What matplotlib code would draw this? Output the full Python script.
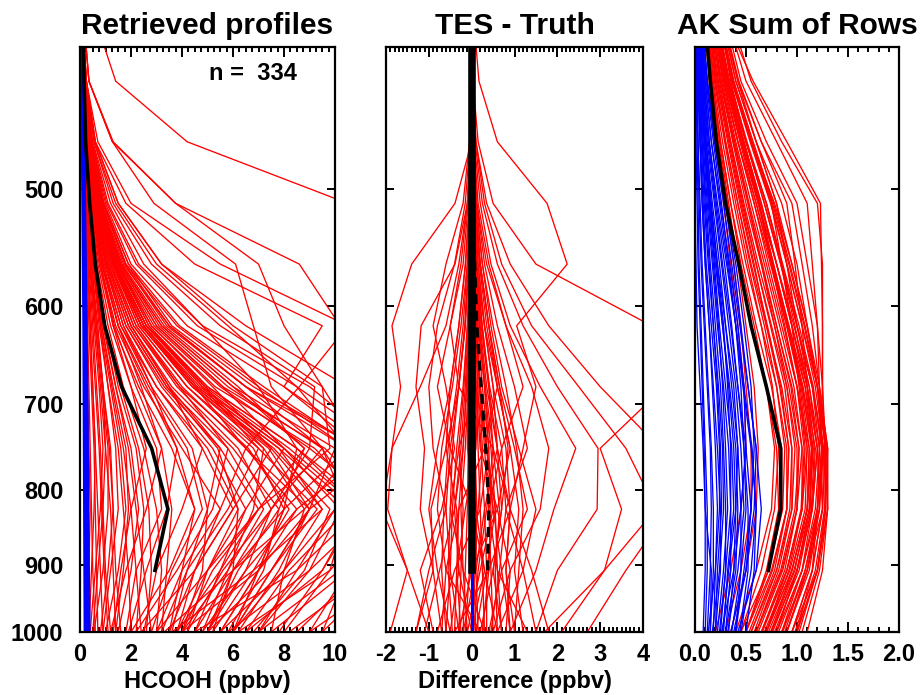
import matplotlib
matplotlib.use('Agg')
import matplotlib.pyplot as plt
from matplotlib.ticker import FixedLocator, MultipleLocator, NullLocator, FixedFormatter

plt.rcParams['font.family'] = ['Liberation Sans', 'DejaVu Sans']
plt.rcParams['font.weight'] = 'bold'
plt.rcParams['axes.unicode_minus'] = False

# ---------------- data ----------------
pressure = [1000, 908, 825, 750, 681, 619, 562, 511, 464, 422, 383]
mean_pressure = [908, 825, 750, 681, 619, 562, 511, 464, 422, 383]

titles = ["Retrieved profiles", "TES - Truth", "AK Sum of Rows"]
xlabels = ["HCOOH (ppbv)", "Difference (ppbv)", ""]
y_ticks = [500, 600, 700, 800, 900, 1000]
y_ticklabels = ["500", "600", "700", "800", "900", "1000"]
x1_ticks = [0, 2, 4, 6, 8, 10]
x2_ticks = [-2, -1, 0, 1, 2, 3, 4]
x3_ticks = [0.0, 0.5, 1.0, 1.5, 2.0]
x3_ticklabels = ["0.0", "0.5", "1.0", "1.5", "2.0"]
n_text = "n =  334"

# retrieved HCOOH profiles (ppbv), values at pressure levels above (bottom -> top)
retrieved_profiles = [
    [0.6, 0.5, 0.45, 0.4, 0.35, 0.3, 0.25, 0.2, 0.15, 0.1, 0.08],
    [0.9, 0.8, 0.7, 0.6, 0.5, 0.4, 0.3, 0.22, 0.15, 0.1, 0.08],
    [1.2, 1.0, 0.9, 0.8, 0.65, 0.5, 0.35, 0.25, 0.18, 0.12, 0.1],
    [1.4, 1.3, 1.2, 1.0, 0.8, 0.6, 0.4, 0.3, 0.2, 0.12, 0.1],
    [0.8, 1.1, 1.3, 1.2, 0.9, 0.65, 0.45, 0.3, 0.2, 0.13, 0.1],
    [1.0, 1.5, 1.8, 1.6, 1.2, 0.8, 0.5, 0.3, 0.2, 0.12, 0.1],
    [1.5, 2.0, 2.3, 2.0, 1.4, 0.9, 0.55, 0.35, 0.2, 0.13, 0.1],
    [2.6, 2.8, 2.7, 2.3, 1.6, 1.0, 0.6, 0.35, 0.22, 0.14, 0.1],
    [3.0, 3.2, 3.0, 2.5, 1.7, 1.1, 0.65, 0.4, 0.25, 0.15, 0.1],
    [0.3, 0.35, 0.4, 0.35, 0.3, 0.25, 0.2, 0.15, 0.12, 0.1, 0.08],
    [2.2, 2.4, 2.5, 2.2, 1.5, 1.0, 0.6, 0.35, 0.2, 0.12, 0.1],
    [1.3, 1.6, 2.0, 2.6, 2.0, 1.3, 0.8, 0.45, 0.25, 0.15, 0.1],
    [3.8, 4.5, 5.5, 4.0, 2.5, 1.4, 0.8, 0.45, 0.25, 0.15, 0.1],
    [4.2, 5.0, 6.2, 5.0, 3.0, 1.6, 0.9, 0.5, 0.28, 0.15, 0.1],
    [4.5, 5.5, 7.0, 5.5, 3.3, 1.8, 1.0, 0.55, 0.3, 0.16, 0.1],
    [5.0, 6.2, 7.8, 6.0, 3.6, 2.0, 1.1, 0.6, 0.3, 0.16, 0.1],
    [5.5, 7.0, 8.5, 6.5, 4.0, 2.2, 1.2, 0.65, 0.32, 0.17, 0.1],
    [6.0, 7.5, 9.3, 7.0, 4.2, 2.3, 1.3, 0.7, 0.35, 0.18, 0.1],
    [6.5, 8.2, 10.5, 7.8, 4.6, 2.5, 1.4, 0.75, 0.35, 0.18, 0.1],
    [7.0, 9.0, 11.5, 8.5, 5.0, 2.7, 1.5, 0.8, 0.38, 0.2, 0.1],
    [3.5, 4.0, 4.5, 3.8, 2.6, 1.5, 0.85, 0.5, 0.25, 0.15, 0.1],
    [4.0, 4.8, 5.0, 5.5, 3.5, 2.0, 1.1, 0.6, 0.3, 0.16, 0.1],
    [3.0, 4.0, 5.5, 6.5, 4.5, 2.5, 1.3, 0.7, 0.35, 0.18, 0.1],
    [3.5, 4.5, 6.0, 7.5, 5.2, 2.8, 1.5, 0.75, 0.35, 0.18, 0.1],
    [4.0, 5.2, 7.0, 8.8, 6.0, 3.2, 1.6, 0.8, 0.38, 0.2, 0.1],
    [4.5, 6.0, 8.0, 10.5, 7.0, 3.8, 1.8, 0.9, 0.4, 0.2, 0.1],
    [5.0, 6.5, 8.5, 11.5, 8.0, 4.2, 2.0, 1.0, 0.45, 0.22, 0.1],
    [2.5, 3.0, 4.0, 4.8, 3.5, 2.0, 1.1, 0.6, 0.3, 0.16, 0.1],
    [5.5, 8.0, 9.5, 7.5, 4.5, 2.4, 1.3, 0.7, 0.35, 0.18, 0.1],
    [6.5, 9.5, 11.0, 8.5, 5.0, 2.6, 1.4, 0.75, 0.35, 0.18, 0.1],
    [7.5, 10.5, 12.0, 9.0, 5.5, 2.9, 1.5, 0.8, 0.38, 0.2, 0.1],
    [8.5, 11.0, 12.5, 10.0, 6.0, 3.2, 1.6, 0.85, 0.4, 0.2, 0.1],
    [4.8, 6.5, 7.5, 6.2, 3.8, 2.1, 1.2, 0.65, 0.32, 0.17, 0.1],
    [9.5, 12.0, 13.0, 10.5, 6.5, 3.5, 1.8, 0.9, 0.42, 0.2, 0.1],
    [12.0, 14.0, 15.0, 15.0, 14.0, 13.0, 12.0, 10.5, 4.2, 1.4, 0.6],
    [9.0, 10.5, 11.0, 9.5, 7.5, 6.8, 6.1, 2.9, 1.27, 0.35, 0.15],
    [11.0, 12.0, 12.0, 11.0, 9.5, 8.0, 7.0, 3.75, 1.27, 0.35, 0.15],
    [12.0, 13.0, 13.0, 12.5, 11.0, 10.2, 8.6, 3.75, 1.3, 0.35, 0.15],
    [6.0, 7.0, 8.0, 8.5, 7.0, 4.8, 2.5, 1.2, 0.5, 0.2, 0.1],
    [7.0, 8.5, 10.0, 10.5, 8.5, 5.8, 3.0, 1.4, 0.55, 0.22, 0.1],
    [3.0, 5.0, 7.0, 9.8, 9.5, 6.0, 3.2, 1.5, 0.6, 0.25, 0.1],
    [5.0, 7.5, 9.0, 6.5, 8.6, 10.5, 5.5, 2.0, 0.7, 0.25, 0.1],
    [6.0, 8.0, 10.0, 11.0, 8.0, 9.5, 4.5, 1.8, 0.6, 0.25, 0.1],
    [2.0, 3.5, 4.5, 3.6, 2.3, 1.3, 0.75, 0.4, 0.22, 0.13, 0.1],
    [1.8, 2.2, 3.2, 3.0, 2.0, 1.2, 0.7, 0.4, 0.22, 0.13, 0.1],
    [3.3, 6.0, 8.8, 7.2, 4.4, 2.4, 1.3, 0.7, 0.35, 0.18, 0.1],
    [0.5, 0.7, 0.9, 1.0, 0.9, 0.7, 0.45, 0.3, 0.18, 0.12, 0.08],
    [0.7, 0.65, 0.6, 0.55, 0.45, 0.35, 0.27, 0.2, 0.14, 0.1, 0.08],
    [1.1, 0.95, 0.85, 0.75, 0.6, 0.45, 0.32, 0.22, 0.15, 0.1, 0.08],
    [1.6, 1.4, 1.3, 1.15, 0.9, 0.65, 0.45, 0.3, 0.2, 0.13, 0.1],
    [0.4, 0.6, 0.8, 0.9, 0.75, 0.55, 0.38, 0.26, 0.17, 0.11, 0.08],
    [2.0, 1.9, 1.7, 1.5, 1.1, 0.75, 0.5, 0.32, 0.2, 0.13, 0.1],
    [2.8, 2.5, 2.2, 1.9, 1.4, 0.95, 0.6, 0.38, 0.23, 0.14, 0.1],
    [1.2, 1.8, 2.6, 3.2, 2.4, 1.5, 0.9, 0.5, 0.28, 0.16, 0.1],
    [0.9, 1.2, 1.5, 1.4, 1.1, 0.8, 0.55, 0.35, 0.21, 0.13, 0.1],
    [4.0, 5.8, 7.2, 5.8, 3.4, 1.9, 1.05, 0.58, 0.3, 0.16, 0.1],
    [5.2, 6.8, 8.2, 6.6, 3.9, 2.1, 1.15, 0.62, 0.31, 0.17, 0.1],
    [6.2, 7.8, 9.0, 7.4, 4.4, 2.4, 1.3, 0.7, 0.34, 0.18, 0.1],
    [7.8, 9.5, 10.8, 8.0, 4.8, 2.6, 1.4, 0.75, 0.36, 0.19, 0.1],
    [3.6, 4.2, 5.0, 4.4, 2.8, 1.6, 0.9, 0.5, 0.27, 0.15, 0.1],
    [2.8, 3.6, 4.8, 4.2, 2.7, 1.5, 0.85, 0.48, 0.26, 0.15, 0.1],
    [3.8, 5.0, 6.5, 8.0, 5.6, 3.0, 1.55, 0.78, 0.36, 0.19, 0.1],
    [4.2, 5.6, 7.5, 9.5, 6.5, 3.5, 1.7, 0.85, 0.4, 0.2, 0.1],
    [3.2, 4.2, 5.8, 7.0, 4.8, 2.6, 1.4, 0.72, 0.35, 0.18, 0.1],
    [5.5, 7.0, 9.0, 12.0, 8.5, 4.6, 2.2, 1.05, 0.46, 0.22, 0.1],
    [6.0, 7.5, 9.0, 10.0, 10.5, 6.5, 3.2, 1.5, 0.6, 0.25, 0.1],
    [5.0, 6.0, 7.5, 9.0, 9.2, 5.5, 2.8, 1.3, 0.55, 0.23, 0.1],
    [4.0, 7.0, 8.0, 6.8, 4.2, 2.3, 1.25, 0.68, 0.34, 0.18, 0.1],
    [5.8, 9.0, 10.2, 8.0, 4.7, 2.5, 1.35, 0.72, 0.35, 0.18, 0.1],
    [7.0, 10.2, 11.5, 9.2, 5.3, 2.8, 1.45, 0.78, 0.37, 0.19, 0.1],
    [9.0, 12.5, 14.0, 11.0, 6.8, 3.6, 1.9, 0.95, 0.44, 0.21, 0.1],
    [3.8, 5.5, 6.5, 5.2, 3.2, 1.8, 1.0, 0.55, 0.29, 0.16, 0.1],
    [2.4, 4.5, 6.0, 4.8, 3.0, 1.7, 0.95, 0.52, 0.28, 0.15, 0.1],
    [4.5, 8.5, 11.0, 8.2, 4.9, 2.6, 1.4, 0.74, 0.35, 0.18, 0.1],
    [6.8, 8.8, 9.8, 7.6, 4.5, 2.4, 1.3, 0.7, 0.34, 0.18, 0.1],
    [8.0, 9.8, 10.5, 9.5, 5.8, 3.1, 1.6, 0.82, 0.39, 0.2, 0.1],
    [3.6, 6.8, 9.5, 7.8, 4.6, 2.5, 1.35, 0.72, 0.35, 0.18, 0.1],
    [5.8, 7.2, 7.8, 8.8, 6.2, 3.3, 1.65, 0.82, 0.38, 0.2, 0.1],
    [7.5, 8.0, 8.8, 10.8, 7.2, 3.9, 1.9, 0.92, 0.42, 0.21, 0.1],
    [9.5, 10.5, 11.5, 12.0, 9.0, 4.8, 2.3, 1.1, 0.48, 0.22, 0.1],
    [4.8, 5.8, 6.8, 7.2, 4.9, 2.7, 1.45, 0.74, 0.35, 0.18, 0.1],
    [2.2, 3.8, 5.2, 5.8, 3.9, 2.2, 1.2, 0.62, 0.31, 0.17, 0.1],
    [6.2, 9.8, 12.0, 9.6, 5.6, 3.0, 1.55, 0.8, 0.38, 0.19, 0.1],
    [8.2, 11.5, 13.5, 11.0, 6.5, 3.4, 1.75, 0.9, 0.42, 0.21, 0.1],
    [5.2, 6.0, 6.2, 5.4, 3.4, 1.9, 1.05, 0.56, 0.29, 0.16, 0.1],
    [0.55, 0.9, 1.1, 1.1, 0.85, 0.6, 0.42, 0.28, 0.18, 0.12, 0.08],
    [1.4, 1.7, 1.9, 1.8, 1.3, 0.85, 0.55, 0.34, 0.21, 0.13, 0.1],
    [2.4, 2.2, 2.0, 1.7, 1.25, 0.85, 0.55, 0.35, 0.21, 0.13, 0.1],
    [0.35, 0.45, 0.55, 0.6, 0.5, 0.4, 0.3, 0.21, 0.14, 0.1, 0.08],
    [1.9, 2.6, 3.4, 3.8, 2.8, 1.7, 1.0, 0.55, 0.3, 0.16, 0.1],
    [3.2, 3.4, 3.6, 3.2, 2.2, 1.35, 0.8, 0.45, 0.25, 0.15, 0.1],
]
apriori_profiles = [
    [0.2, 0.19, 0.18, 0.17, 0.16, 0.15, 0.13, 0.11, 0.09, 0.07, 0.06],
    [0.3, 0.28, 0.26, 0.25, 0.23, 0.21, 0.19, 0.16, 0.13, 0.11, 0.09],
    [0.36, 0.33, 0.31, 0.29, 0.27, 0.24, 0.21, 0.18, 0.15, 0.13, 0.11],
]
retrieved_mean = [2.94, 3.45, 2.81, 1.63, 0.97, 0.6, 0.38, 0.22, 0.16, 0.12]

# TES - truth differences (ppbv)
diff_profiles = [
    [0.1, 0.05, 0.05, 0.03, 0.02, 0.01, 0, 0, 0, 0, 0],
    [-0.2, -0.15, -0.1, -0.08, -0.05, -0.03, -0.02, -0.01, 0, 0, 0],
    [0.3, 0.25, 0.2, 0.15, 0.1, 0.06, 0.03, 0.02, 0.01, 0, 0],
    [-0.4, -0.35, -0.3, -0.2, -0.12, -0.07, -0.04, -0.02, -0.01, 0, 0],
    [0.5, 0.45, 0.4, 0.3, 0.2, 0.12, 0.06, 0.03, 0.01, 0, 0],
    [-0.6, -0.5, -0.45, -0.35, -0.2, -0.1, -0.05, -0.02, -0.01, 0, 0],
    [0.7, 0.6, 0.55, 0.45, 0.3, 0.18, 0.09, 0.04, 0.02, 0, 0],
    [-0.3, -0.5, -0.6, -0.5, -0.3, -0.15, -0.07, -0.03, -0.01, 0, 0],
    [0.2, 0.5, 0.7, 0.6, 0.35, 0.2, 0.1, 0.05, 0.02, 0.01, 0],
    [-0.7, -0.6, -0.8, -0.7, -0.45, -0.25, -0.1, -0.05, -0.02, -0.01, 0],
    [0.9, 0.8, 0.9, 0.8, 0.5, 0.3, 0.15, 0.07, 0.03, 0.01, 0],
    [1.2, 1.0, 1.1, 0.9, 0.6, 0.35, 0.18, 0.08, 0.03, 0.01, 0],
    [-0.5, -0.8, -1.0, -0.8, -0.5, -0.3, -0.15, -0.06, -0.02, -0.01, 0],
    [0.4, 0.7, 1.3, 1.0, 0.65, 0.4, 0.2, 0.08, 0.03, 0.01, 0],
    [1.5, 1.2, 1.5, 1.1, 0.7, 0.45, 0.25, 0.1, 0.04, 0.01, 0],
    [-0.1, 0.2, 0.5, 0.35, 0.2, 0.1, 0.05, 0.02, 0.01, 0, 0],
    [0.0, -0.3, -0.4, -0.25, -0.15, -0.08, -0.04, -0.02, 0, 0, 0],
    [0.6, 0.3, 0.1, -0.1, -0.1, -0.05, -0.02, -0.01, 0, 0, 0],
    [-0.8, -0.4, 0.2, 0.4, 0.3, 0.15, 0.07, 0.03, 0.01, 0, 0],
    [0.8, 0.9, 0.6, 0.2, 0.1, 0.05, 0.02, 0.01, 0, 0, 0],
    [-0.2, 0.1, 0.3, 0.6, 0.5, 0.3, 0.15, 0.06, 0.02, 0.01, 0],
    [0.3, -0.2, -0.5, -0.3, 0.1, 0.05, 0.02, 0.01, 0, 0, 0],
    [1.0, 0.8, 0.9, 1.2, 1.5, 1.05, 2.23, 1.76, 0.6, 0.17, 0.05],
    [-1.0, -1.5, -2.1, -1.86, -1.66, -1.86, -1.4, -0.39, 0.0, 0, 0],
    [-1.3, -0.9, -1.2, -1.1, -1.3, -1.18, -0.39, -0.1, -0.02, 0, 0],
    [2.1, 3.1, 3.5, 3.0, 4.5, 4.2, 1.5, 0.5, 0.15, 0.03, 0],
    [1.7, 3.1, 4.3, 3.6, 2.5, 1.4, 0.7, 0.3, 0.1, 0.02, 0],
    [1.5, 2.0, 2.93, 2.95, 2.0, 1.2, 0.6, 0.25, 0.08, 0.02, 0],
    [0.9, 1.5, 1.92, 2.43, 1.6, 0.9, 0.45, 0.2, 0.06, 0.01, 0],
    [2.7, 3.6, 4.6, 4.4, 3.0, 1.8, 0.9, 0.35, 0.1, 0.02, 0],
    [-1.9, -1.5, -1.96, -1.86, -1.2, -0.6, -0.3, -0.1, -0.03, 0, 0],
    [-1.3, -1.0, -0.6, -0.9, -1.0, -0.8, -0.4, -0.15, -0.04, -0.01, 0],
    [0.6, 1.2, 0.8, 1.3, 1.0, 0.6, 0.3, 0.12, 0.04, 0.01, 0],
    [-0.4, 0.4, 0.9, 0.5, -0.3, -0.5, -0.25, -0.1, -0.03, 0, 0],
    [0.2, -0.6, -0.3, 0.3, 0.6, 0.4, 0.2, 0.08, 0.03, 0.01, 0],
    [1.3, 0.6, 0.4, 0.7, 1.2, 0.8, 0.35, 0.12, 0.03, 0.01, 0],
    [-0.9, -1.2, -0.7, -0.4, -0.6, -0.9, -0.6, -0.2, -0.05, -0.01, 0],
    [0.5, 0.9, 1.6, 1.8, 1.4, 0.8, 0.4, 0.15, 0.05, 0.01, 0],
    [0.0, 0.3, 0.0, -0.5, -0.8, -0.5, -0.2, -0.08, -0.02, 0, 0],
    [-0.3, 0.0, 0.6, 0.9, 0.6, 0.3, 0.1, 0.04, 0.01, 0, 0],
    [0.15, 0.1, 0.12, 0.08, 0.05, 0.03, 0.01, 0, 0, 0, 0],
    [-0.1, -0.2, -0.25, -0.15, -0.08, -0.04, -0.02, -0.01, 0, 0, 0],
    [0.35, 0.35, 0.3, 0.22, 0.14, 0.08, 0.04, 0.02, 0.01, 0, 0],
    [-0.3, -0.25, -0.2, -0.3, -0.18, -0.1, -0.05, -0.02, -0.01, 0, 0],
    [0.6, 0.55, 0.65, 0.5, 0.32, 0.18, 0.09, 0.04, 0.02, 0, 0],
    [-0.45, -0.55, -0.5, -0.45, -0.3, -0.16, -0.08, -0.03, -0.01, 0, 0],
    [0.25, 0.4, 0.45, 0.4, 0.25, 0.14, 0.07, 0.03, 0.01, 0, 0],
    [-0.6, -0.7, -0.65, -0.55, -0.35, -0.2, -0.1, -0.04, -0.01, 0, 0],
    [0.45, 0.65, 0.8, 0.7, 0.42, 0.24, 0.12, 0.05, 0.02, 0, 0],
    [-0.15, -0.05, 0.15, 0.25, 0.18, 0.1, 0.05, 0.02, 0.01, 0, 0],
    [0.05, 0.15, 0.35, 0.5, 0.4, 0.22, 0.1, 0.04, 0.01, 0, 0],
    [-0.25, -0.35, -0.15, 0.1, 0.15, 0.08, 0.04, 0.02, 0.01, 0, 0],
    [0.9, 0.7, 0.5, 0.35, 0.2, 0.1, 0.05, 0.02, 0.01, 0, 0],
    [-0.5, -0.3, -0.35, -0.6, -0.5, -0.3, -0.14, -0.05, -0.02, 0, 0],
    [0.1, 0.35, 0.55, 0.35, 0.1, 0.02, 0.01, 0, 0, 0, 0],
    [1.0, 1.1, 1.2, 1.05, 0.8, 0.5, 0.25, 0.1, 0.04, 0.01, 0],
    [-0.7, -0.9, -0.95, -0.6, -0.3, -0.15, -0.07, -0.03, -0.01, 0, 0],
    [0.7, 0.5, 0.7, 0.85, 0.65, 0.4, 0.2, 0.08, 0.03, 0.01, 0],
    [-1.1, -0.75, -0.4, -0.2, -0.12, -0.06, -0.03, -0.01, 0, 0, 0],
    [1.8, 1.4, 0.9, 0.6, 0.4, 0.25, 0.12, 0.05, 0.02, 0, 0],
]
diff_apriori = [0.0, 0.0, 0.0, 0.0, 0.0, 0.0, 0.0, 0.0, 0.0, 0.0, 0.0]
diff_mean = [0.0, 0.0, 0.0, 0.0, 0.0, 0.0, 0.0, 0.0, 0.0, 0.0]
diff_mean_dashed = [0.37, 0.4, 0.33, 0.22, 0.12, 0.07, 0.04, 0.02, 0.01, 0.0]

# averaging kernel row sums
ak_red = [
    [0.9, 1.1, 1.2, 1.25, 1.15, 1.0, 0.85, 0.7, 0.5, 0.35, 0.25],
    [0.8, 1.0, 1.15, 1.2, 1.1, 0.95, 0.8, 0.62, 0.45, 0.3, 0.2],
    [1.0, 1.2, 1.3, 1.3, 1.2, 1.1, 0.95, 0.78, 0.55, 0.38, 0.25],
    [0.7, 0.9, 1.05, 1.1, 1.0, 0.85, 0.7, 0.55, 0.4, 0.27, 0.18],
    [0.6, 0.85, 1.0, 1.0, 0.9, 0.75, 0.6, 0.47, 0.35, 0.24, 0.16],
    [0.55, 0.8, 0.95, 0.95, 0.85, 0.7, 0.55, 0.42, 0.3, 0.2, 0.14],
    [0.5, 0.75, 0.9, 0.9, 0.8, 0.65, 0.5, 0.38, 0.27, 0.18, 0.12],
    [0.85, 1.05, 1.2, 1.25, 1.2, 1.1, 1.0, 0.85, 0.6, 0.4, 0.27],
    [1.1, 1.25, 1.3, 1.28, 1.25, 1.2, 1.1, 1.0, 0.7, 0.45, 0.3],
    [0.95, 1.15, 1.25, 1.22, 1.25, 1.25, 1.25, 1.2, 0.85, 0.55, 0.36],
    [0.75, 0.95, 1.1, 1.15, 1.05, 0.9, 0.75, 0.6, 0.42, 0.28, 0.18],
    [0.65, 0.9, 1.05, 1.05, 0.95, 0.8, 0.65, 0.5, 0.37, 0.25, 0.16],
    [0.45, 0.72, 0.85, 0.85, 0.75, 0.6, 0.47, 0.35, 0.25, 0.17, 0.11],
    [0.9, 1.1, 1.25, 1.28, 1.2, 1.05, 0.9, 0.75, 0.55, 0.37, 0.25],
    [1.0, 1.15, 1.2, 1.22, 1.15, 1.0, 0.9, 0.8, 0.6, 0.42, 0.28],
    [0.7, 0.95, 1.1, 1.12, 1.0, 0.87, 0.72, 0.58, 0.42, 0.28, 0.18],
    [0.8, 1.05, 1.15, 1.18, 1.08, 0.92, 0.77, 0.62, 0.45, 0.3, 0.2],
    [0.6, 0.82, 0.95, 0.98, 0.9, 0.78, 0.65, 0.52, 0.38, 0.25, 0.16],
    [0.55, 0.78, 0.9, 0.92, 0.83, 0.7, 0.58, 0.45, 0.33, 0.22, 0.14],
    [0.95, 1.2, 1.28, 1.3, 1.22, 1.15, 1.05, 0.95, 0.65, 0.43, 0.28],
    [1.0, 1.2, 1.28, 1.27, 1.25, 1.25, 1.24, 1.23, 0.9, 0.57, 0.3],
    [0.85, 1.1, 1.22, 1.25, 1.22, 1.2, 1.15, 1.1, 0.8, 0.5, 0.32],
    [0.4, 0.6, 0.75, 0.78, 0.7, 0.58, 0.45, 0.35, 0.25, 0.17, 0.11],
    [0.35, 0.5, 0.6, 0.62, 0.58, 0.5, 0.42, 0.33, 0.24, 0.16, 0.1],
    [0.3, 0.45, 0.55, 0.55, 0.5, 0.45, 0.38, 0.3, 0.22, 0.15, 0.1],
    [1.05, 1.22, 1.3, 1.3, 1.22, 1.1, 0.95, 0.8, 0.6, 0.4, 0.26],
    [0.75, 1.0, 1.15, 1.2, 1.12, 1.0, 0.85, 0.7, 0.5, 0.33, 0.22],
    [0.65, 0.88, 1.0, 1.02, 0.92, 0.78, 0.62, 0.48, 0.35, 0.23, 0.15],
    [0.2, 0.35, 0.45, 0.5, 0.48, 0.42, 0.35, 0.28, 0.2, 0.14, 0.09],
    [0.9, 1.12, 1.22, 1.2, 1.1, 0.95, 0.8, 0.65, 0.48, 0.32, 0.21],
    [0.5, 0.7, 0.82, 0.8, 0.7, 0.55, 0.42, 0.32, 0.23, 0.15, 0.1],
    [0.7, 0.92, 1.05, 1.08, 1.02, 0.95, 0.85, 0.75, 0.55, 0.36, 0.23],
    [0.8, 1.0, 1.12, 1.15, 1.1, 1.05, 0.98, 0.9, 0.65, 0.42, 0.27],
    [0.62, 0.86, 1.0, 1.05, 0.97, 0.83, 0.68, 0.53, 0.39, 0.26, 0.17],
    [0.72, 0.97, 1.12, 1.16, 1.06, 0.92, 0.76, 0.6, 0.44, 0.29, 0.19],
    [0.82, 1.05, 1.18, 1.22, 1.12, 0.97, 0.8, 0.64, 0.47, 0.31, 0.2],
    [0.88, 1.08, 1.2, 1.24, 1.16, 1.02, 0.86, 0.7, 0.51, 0.34, 0.22],
    [0.5, 0.72, 0.86, 0.88, 0.8, 0.68, 0.54, 0.42, 0.3, 0.2, 0.13],
    [0.58, 0.8, 0.93, 0.95, 0.88, 0.74, 0.6, 0.46, 0.34, 0.22, 0.14],
    [0.68, 0.93, 1.08, 1.1, 1.03, 0.9, 0.76, 0.62, 0.46, 0.3, 0.19],
    [0.78, 1.02, 1.14, 1.17, 1.1, 0.98, 0.84, 0.68, 0.5, 0.33, 0.21],
    [0.95, 1.15, 1.25, 1.26, 1.18, 1.05, 0.9, 0.74, 0.54, 0.36, 0.24],
    [0.45, 0.65, 0.78, 0.82, 0.76, 0.65, 0.52, 0.4, 0.29, 0.19, 0.12],
    [0.66, 0.9, 1.04, 1.07, 1.0, 0.88, 0.75, 0.63, 0.48, 0.32, 0.2],
    [0.74, 0.98, 1.1, 1.12, 1.04, 0.9, 0.74, 0.58, 0.42, 0.28, 0.18],
    [1.02, 1.2, 1.28, 1.28, 1.2, 1.08, 0.93, 0.77, 0.57, 0.38, 0.25],
    [0.6, 0.84, 0.98, 1.02, 0.94, 0.8, 0.66, 0.52, 0.38, 0.25, 0.16],
    [0.86, 1.08, 1.22, 1.26, 1.15, 1.0, 0.84, 0.68, 0.5, 0.33, 0.22],
    [0.7, 0.95, 1.1, 1.14, 1.05, 0.91, 0.77, 0.63, 0.47, 0.31, 0.2],
    [0.98, 1.18, 1.27, 1.29, 1.2, 1.07, 0.92, 0.76, 0.56, 0.37, 0.25],
    [0.53, 0.76, 0.9, 0.92, 0.84, 0.71, 0.57, 0.44, 0.32, 0.21, 0.13],
    [0.76, 1.0, 1.13, 1.15, 1.08, 0.95, 0.8, 0.65, 0.48, 0.32, 0.2],
]
ak_blue = [
    [0.3, 0.35, 0.35, 0.33, 0.28, 0.22, 0.17, 0.12, 0.08, 0.05, 0.03],
    [0.2, 0.25, 0.25, 0.22, 0.18, 0.14, 0.1, 0.07, 0.05, 0.03, 0.02],
    [0.4, 0.45, 0.45, 0.42, 0.36, 0.3, 0.24, 0.17, 0.11, 0.07, 0.04],
    [0.15, 0.18, 0.18, 0.16, 0.13, 0.1, 0.07, 0.05, 0.03, 0.02, 0.01],
    [0.35, 0.5, 0.55, 0.5, 0.42, 0.35, 0.27, 0.2, 0.13, 0.08, 0.05],
    [0.25, 0.3, 0.3, 0.28, 0.25, 0.2, 0.15, 0.11, 0.07, 0.04, 0.03],
    [0.45, 0.55, 0.6, 0.55, 0.47, 0.4, 0.32, 0.24, 0.16, 0.1, 0.06],
    [0.1, 0.12, 0.12, 0.1, 0.08, 0.06, 0.04, 0.03, 0.02, 0.01, 0.01],
    [0.3, 0.4, 0.42, 0.4, 0.34, 0.27, 0.2, 0.14, 0.09, 0.06, 0.04],
    [0.22, 0.28, 0.32, 0.3, 0.27, 0.23, 0.18, 0.13, 0.09, 0.06, 0.04],
    [0.38, 0.5, 0.58, 0.6, 0.52, 0.45, 0.38, 0.3, 0.2, 0.12, 0.07],
    [0.18, 0.2, 0.22, 0.2, 0.17, 0.14, 0.1, 0.07, 0.05, 0.03, 0.02],
    [0.28, 0.32, 0.38, 0.36, 0.3, 0.24, 0.19, 0.14, 0.1, 0.07, 0.05],
    [0.42, 0.6, 0.65, 0.6, 0.52, 0.44, 0.36, 0.28, 0.19, 0.12, 0.07],
    [0.12, 0.15, 0.16, 0.15, 0.12, 0.09, 0.06, 0.04, 0.03, 0.02, 0.01],
    [0.32, 0.42, 0.48, 0.45, 0.4, 0.33, 0.26, 0.19, 0.12, 0.08, 0.05],
    [0.2, 0.22, 0.26, 0.25, 0.22, 0.18, 0.14, 0.1, 0.07, 0.05, 0.03],
    [0.26, 0.38, 0.45, 0.5, 0.48, 0.42, 0.34, 0.25, 0.16, 0.1, 0.06],
    [0.36, 0.45, 0.5, 0.48, 0.45, 0.4, 0.33, 0.26, 0.18, 0.11, 0.07],
    [0.15, 0.16, 0.1, 0.08, 0.05, 0.02, 0.01, 0.0, 0.0, 0.0, 0.0],
    [0.24, 0.3, 0.35, 0.35, 0.32, 0.28, 0.22, 0.16, 0.11, 0.07, 0.04],
    [0.5, 0.58, 0.6, 0.56, 0.48, 0.4, 0.31, 0.22, 0.14, 0.09, 0.05],
    [0.08, 0.1, 0.1, 0.09, 0.07, 0.05, 0.03, 0.02, 0.01, 0.01, 0.0],
    [0.27, 0.33, 0.4, 0.42, 0.38, 0.3, 0.22, 0.15, 0.1, 0.06, 0.04],
    [0.33, 0.38, 0.4, 0.38, 0.33, 0.27, 0.21, 0.15, 0.1, 0.06, 0.04],
    [0.17, 0.24, 0.28, 0.27, 0.23, 0.18, 0.13, 0.09, 0.06, 0.04, 0.02],
    [0.44, 0.52, 0.52, 0.48, 0.42, 0.36, 0.29, 0.21, 0.14, 0.09, 0.05],
    [0.13, 0.2, 0.24, 0.24, 0.21, 0.16, 0.11, 0.08, 0.05, 0.03, 0.02],
    [0.4, 0.48, 0.55, 0.58, 0.55, 0.48, 0.4, 0.3, 0.2, 0.12, 0.07],
]
ak_mean = [0.72, 0.84, 0.84, 0.70, 0.55, 0.43, 0.30, 0.21, 0.15, 0.10]

# ---------------- figure ----------------
W, H = 922, 695
fig = plt.figure(figsize=(W / 100, H / 100), dpi=100)
bottom = (H - 632) / H
height = (632 - 47) / H
ax1 = fig.add_axes([80 / W, bottom, 255 / W, height])
ax2 = fig.add_axes([386 / W, bottom, 257 / W, height])
ax3 = fig.add_axes([695 / W, bottom, 204 / W, height])

RED = '#ff0000'
BLUE = '#0000ff'
lw_red = 0.95

# panel 1
for prof in retrieved_profiles:
    ax1.plot(prof, pressure, color=RED, lw=lw_red)
for prof in apriori_profiles:
    ax1.plot(prof, pressure, color=BLUE, lw=2.2)
ax1.plot(retrieved_mean, mean_pressure, color='black', lw=2.6)
ax1.set_xlim(0, 10)
ax1.xaxis.set_major_locator(FixedLocator(x1_ticks))
ax1.xaxis.set_minor_locator(MultipleLocator(0.25))
ax1.text(0.85, 0.955, n_text, transform=ax1.transAxes, ha='right', va='center',
         fontsize=17, fontweight='bold')

# panel 2
for prof in diff_profiles:
    ax2.plot(prof, pressure, color=RED, lw=lw_red)
ax2.plot(diff_apriori, pressure, color=BLUE, lw=2.2)
ax2.plot(diff_mean, mean_pressure, color='black', lw=5.5)
ax2.plot(diff_mean_dashed, mean_pressure, color='black', lw=2.4, ls=(0, (3, 2)))
ax2.set_xlim(-2, 4)
ax2.xaxis.set_major_locator(FixedLocator(x2_ticks))
ax2.xaxis.set_minor_locator(MultipleLocator(0.1))

# panel 3
for prof in ak_red:
    ax3.plot(prof, pressure, color=RED, lw=lw_red)
for prof in ak_blue:
    ax3.plot(prof, pressure, color=BLUE, lw=lw_red)
ax3.plot(ak_mean, mean_pressure, color='black', lw=2.6)
ax3.set_xlim(0, 2)
ax3.xaxis.set_major_locator(FixedLocator(x3_ticks))
ax3.xaxis.set_major_formatter(FixedFormatter(x3_ticklabels))
ax3.xaxis.set_minor_locator(MultipleLocator(0.1))

for i, ax in enumerate([ax1, ax2, ax3]):
    ax.set_yscale('log')
    ax.set_ylim(1000, 400)
    ax.yaxis.set_major_locator(FixedLocator(y_ticks))
    ax.yaxis.set_minor_locator(NullLocator())
    if i == 0:
        ax.yaxis.set_major_formatter(FixedFormatter(y_ticklabels))
    else:
        ax.set_yticklabels([])
    ax.tick_params(axis='both', which='both', direction='in', top=True, right=True,
                   width=1.4, labelsize=17, pad=12)
    ax.tick_params(axis='x', which='major', length=7.5)
    ax.tick_params(axis='x', which='minor', length=3.8)
    ax.tick_params(axis='y', which='major', length=6)
    ax.tick_params(axis='x', pad=8)
    for lab in ax.get_xticklabels() + ax.get_yticklabels():
        lab.set_fontweight('bold')
    for sp in ax.spines.values():
        sp.set_linewidth(1.6)
    ax.set_title(titles[i], fontsize=21.5, fontweight='bold', pad=9)
    if xlabels[i]:
        ax.set_xlabel(xlabels[i], fontsize=17, fontweight='bold', labelpad=3)

fig.savefig('out.png', dpi=100)
